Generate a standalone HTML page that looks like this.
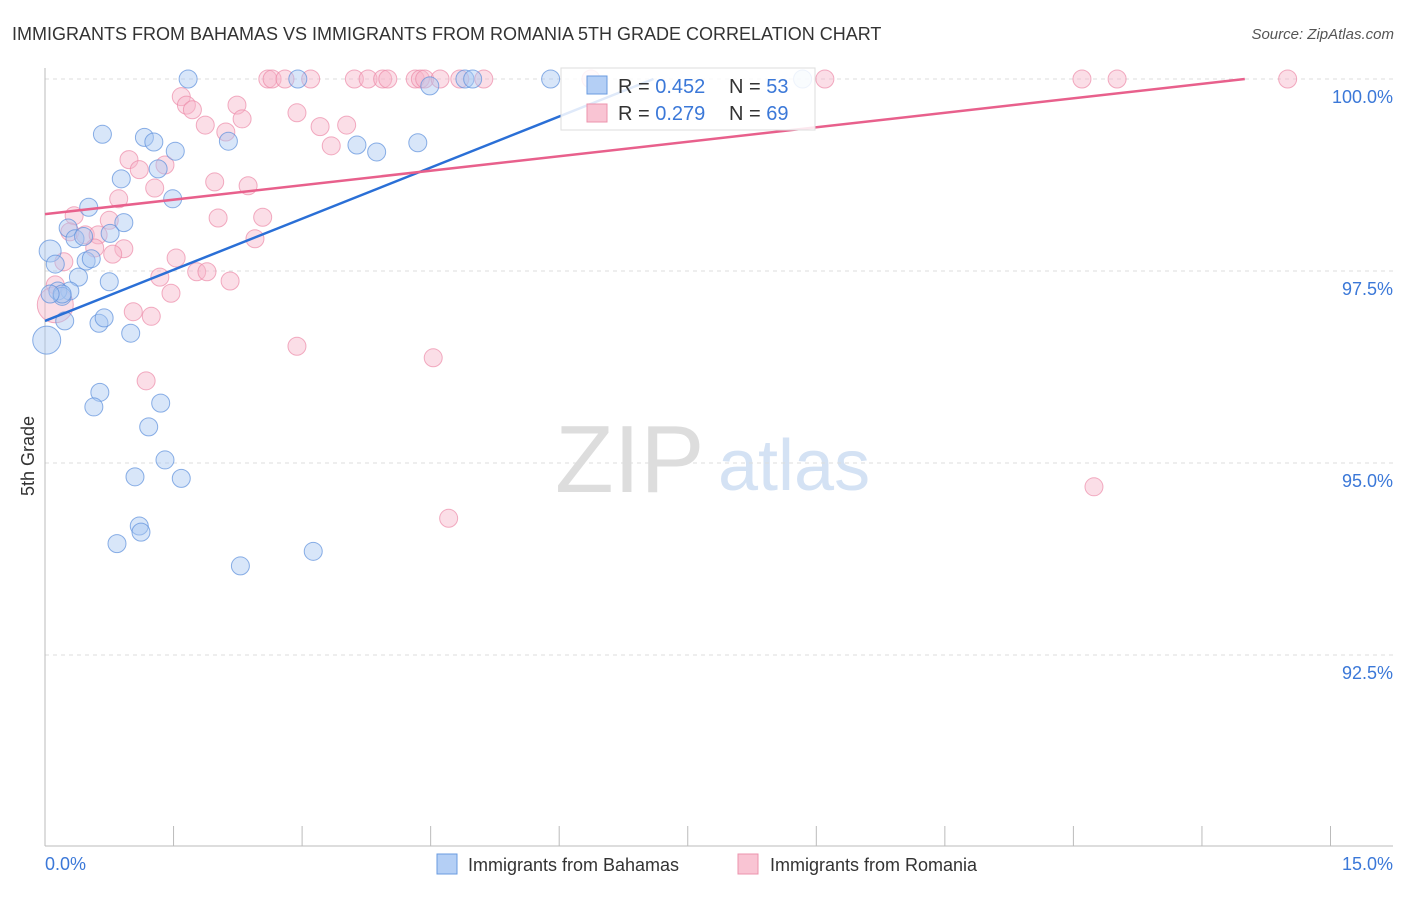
<!DOCTYPE html>
<html><head><meta charset="utf-8"><style>
body{margin:0;background:#fff;font-family:"Liberation Sans",sans-serif;}
svg text{font-family:"Liberation Sans",sans-serif;}
</style></head><body>
<svg id="c" width="1406" height="892">
<text x="12" y="40" font-size="18" fill="#333">IMMIGRANTS FROM BAHAMAS VS IMMIGRANTS FROM ROMANIA 5TH GRADE CORRELATION CHART</text>
<text x="1394" y="39" font-size="15" fill="#555" text-anchor="end" font-style="italic">Source: ZipAtlas.com</text>
<text x="34" y="456" font-size="18" fill="#333" transform="rotate(-90 34 456)" text-anchor="middle">5th Grade</text>
<text x="555" y="492" font-size="96" fill="#ddd" font-family="Liberation Serif">ZIP</text>
<text x="718" y="490" font-size="72" fill="#d4e2f4">atlas</text>
<g id="grid"></g><g id="pts"></g><g id="lines"></g>
<g>
<rect x="561" y="68" width="254" height="62" fill="#fff" fill-opacity="0.85" stroke="#ddd"/>
<rect x="587" y="76" width="20" height="18" fill="#b4cff5" stroke="#6a9be0"/>
<rect x="587" y="104" width="20" height="18" fill="#f9c4d3" stroke="#ec93ad"/>
<text x="618" y="93" font-size="20" fill="#333">R = <tspan fill="#3b78d8">0.452</tspan></text>
<text x="729" y="93" font-size="20" fill="#333">N = <tspan fill="#3b78d8">53</tspan></text>
<text x="618" y="120" font-size="20" fill="#333">R = <tspan fill="#3b78d8">0.279</tspan></text>
<text x="729" y="120" font-size="20" fill="#333">N = <tspan fill="#3b78d8">69</tspan></text>
</g>
<g>
<rect x="437" y="854" width="20" height="20" fill="#b4cff5" stroke="#6a9be0"/>
<text x="468" y="871" font-size="18" fill="#333">Immigrants from Bahamas</text>
<rect x="738" y="854" width="20" height="20" fill="#f9c4d3" stroke="#ec93ad"/>
<text x="770" y="871" font-size="18" fill="#333">Immigrants from Romania</text>
</g>
</svg>
<script>
const yTicks=[100,97.5,95,92.5];
const yTickLabels=["100.0%","97.5%","95.0%","92.5%"];
const xTickLabels=["0.0%","15.0%"];
const bahamas=[[1.67,100],[2.95,100],[4.90,100],[4.99,100],[5.90,100],[8.84,100],[4.49,99.91],[0.67,99.28],[1.16,99.24],[1.27,99.18],[1.52,99.06],[2.14,99.19],[3.64,99.14],[3.87,99.05],[4.35,99.17],[0.89,98.70],[1.32,98.83],[1.49,98.44],[0.51,98.33],[0.92,98.13],[0.27,98.06],[0.76,97.99],[0.35,97.92],[0.06,97.76],[0.12,97.59],[0.48,97.63],[0.54,97.66],[0.39,97.42],[0.75,97.36],[0.29,97.24],[0.15,97.24],[0.20,97.17],[0.23,96.85],[0.63,96.82],[0.69,96.89],[1.00,96.69],[0.02,96.60],[0.64,95.92],[0.57,95.73],[1.35,95.78],[1.21,95.47],[1.40,95.04],[1.05,94.82],[1.59,94.80],[1.10,94.18],[1.12,94.10],[0.84,93.95],[2.28,93.66],[3.13,93.85],[0.45,97.95],[0.20,97.20],[0.06,97.20]];
const romania=[[2.60,100],[2.65,100],[2.80,100],[3.10,100],[3.61,100],[3.77,100],[3.94,100],[4.00,100],[4.32,100],[4.38,100],[4.43,100],[4.61,100],[4.84,100],[5.12,100],[6.37,100],[9.10,100],[12.10,100],[12.51,100],[14.50,100],[1.59,99.77],[1.65,99.66],[1.72,99.60],[2.24,99.66],[1.87,99.40],[2.94,99.56],[2.30,99.48],[2.11,99.31],[3.21,99.38],[3.52,99.40],[3.34,99.13],[0.98,98.95],[1.10,98.82],[1.40,98.88],[1.28,98.58],[1.98,98.66],[2.37,98.61],[0.86,98.44],[0.34,98.22],[0.75,98.16],[2.02,98.19],[2.54,98.20],[0.29,98.01],[0.47,97.97],[0.62,97.97],[0.58,97.80],[0.92,97.79],[0.79,97.72],[2.45,97.92],[1.53,97.67],[0.22,97.62],[1.34,97.42],[1.77,97.49],[1.89,97.49],[2.16,97.37],[1.47,97.21],[0.12,97.32],[0.12,97.06],[1.03,96.97],[1.24,96.91],[2.94,96.52],[4.53,96.37],[1.18,96.07],[12.24,94.69],[4.71,94.28]];
const trendBahamasX=[0,7.1], trendBahamasY=[96.85,100];
const trendRomaniaX=[0,14.0], trendRomaniaY=[98.24,100];
const X=v=>45+v*85.7, Y=v=>79+(100-v)*76.8;
const NS="http://www.w3.org/2000/svg";
function mk(t,a,p){const e=document.createElementNS(NS,t);for(const k in a)e.setAttribute(k,a[k]);p.appendChild(e);return e;}
const g=document.getElementById('grid');
yTicks.forEach((t,i)=>{
 const l=mk('line',{x1:45,x2:1393,y1:Y(t),y2:Y(t),stroke:'#ddd','stroke-dasharray':'4,4'},g);
 
 
 const tx=mk('text',{x:1393,y:Y(t)+24,'font-size':18,fill:'#3b78d8','text-anchor':'end'},g);
 tx.textContent=yTickLabels[i];
 
 
});
const ax=mk('line',{x1:45,x2:45,y1:68,y2:846,stroke:'#bbb'},g);


const bx=mk('line',{x1:45,x2:1393,y1:846,y2:846,stroke:'#bbb'},g);


for(let i=0;i<=10;i++){const t=mk('line',{x1:X(i*1.5),x2:X(i*1.5),y1:826,y2:846,stroke:'#bbb'},g);
 
 }
[[0,'start',45],[15,'end',1393]].forEach((d,i)=>{const t=mk('text',{x:d[2],y:870,'font-size':18,fill:'#3b78d8','text-anchor':d[1]},g);t.textContent=xTickLabels[i];
 
 });
const p=document.getElementById('pts');
romania.forEach(d=>{const c=mk('circle',{cx:X(d[0]),cy:Y(d[1]),r:(d[0]<0.15&&d[1]<97.1)?18:9,fill:'#f7b6c9','fill-opacity':0.45,stroke:'#ec8aa8','stroke-opacity':0.7},p);
 
 });
bahamas.forEach(d=>{const c=mk('circle',{cx:X(d[0]),cy:Y(d[1]),r:(d[0]<0.05&&d[1]<96.7)?14:(d[0]<0.1&&d[1]>97.7)?11:9,fill:'#a9c8f2','fill-opacity':0.45,stroke:'#5b8fdc','stroke-opacity':0.7},p);
 
 });
const L=document.getElementById('lines');
const lb=mk('line',{x1:X(trendBahamasX[0]),y1:Y(trendBahamasY[0]),x2:X(trendBahamasX[1]),y2:Y(trendBahamasY[1]),stroke:'#2a6fd6','stroke-width':2.5},L);


const lr=mk('line',{x1:X(trendRomaniaX[0]),y1:Y(trendRomaniaY[0]),x2:X(trendRomaniaX[1]),y2:Y(trendRomaniaY[1]),stroke:'#e8608c','stroke-width':2.5},L);


</script>
</body></html>
